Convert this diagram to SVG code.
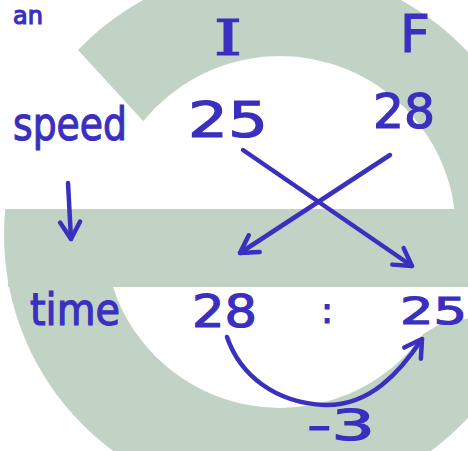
<svg xmlns="http://www.w3.org/2000/svg" width="468" height="451" viewBox="0 0 468 451">
<style>
.wm{fill:#c1d3c5}
.bg{fill:#ffffff}
.ink{fill:#3b2fbf;stroke:#3b2fbf;stroke-width:1.2;font-family:"DejaVu Sans","Liberation Sans",sans-serif}
.ln{fill:none;stroke:#3b2fbf;stroke-width:4.5;stroke-linecap:round;stroke-linejoin:round}
</style>
<defs>
<marker id="ah" markerUnits="userSpaceOnUse" viewBox="-22 -14 26 28" refX="0" refY="0" markerWidth="26" markerHeight="28" orient="auto" overflow="visible">
<path d="M-17,-10 L0,0 L-17,10" fill="none" stroke="#3b2fbf" stroke-width="4.5" stroke-linecap="round" stroke-linejoin="round"/>
</marker>
</defs>
<rect width="468" height="451" class="bg"/>
<g id="watermark">
<circle cx="272" cy="235" r="268" class="wm"/>
<circle cx="280" cy="232" r="176" class="bg"/>
<rect x="8" y="209" width="470" height="78" class="wm"/>
<polygon points="-5,-10 23,-10 150,128.6 115,209 -5,209" class="bg"/>
<polygon points="380,287 470,287 470,318 440,324 420,336" class="bg"/>
</g>
<g id="label-top-cut"><text class="ink" x="13" y="24" font-size="24">an</text></g>
<g id="label-I"><text class="ink" transform="translate(228,55) scale(1.5,1)" text-anchor="middle" font-size="48" style="font-family:'DejaVu Serif',serif">I</text></g>
<g id="label-F"><text class="ink" x="400" y="52" font-size="52">F</text></g>
<g id="label-speed"><text class="ink" x="13" y="140" font-size="46" textLength="114" lengthAdjust="spacingAndGlyphs">speed</text></g>
<g id="label-time"><text class="ink" x="30" y="325" font-size="44" textLength="90" lengthAdjust="spacingAndGlyphs">time</text></g>
<g id="speed-initial"><text class="ink" x="188" y="137" font-size="50" textLength="80" lengthAdjust="spacingAndGlyphs">25</text></g>
<g id="speed-final"><text class="ink" x="373" y="128" font-size="48" textLength="62" lengthAdjust="spacingAndGlyphs">28</text></g>
<g id="time-initial"><text class="ink" x="192" y="327" font-size="44" textLength="65" lengthAdjust="spacingAndGlyphs">28</text></g>
<g id="ratio-colon"><text class="ink" x="327" y="323" font-size="36" text-anchor="middle">:</text></g>
<g id="time-final"><text class="ink" x="400" y="324" font-size="38" textLength="67" lengthAdjust="spacingAndGlyphs">25</text></g>
<g id="difference"><text class="ink" x="307" y="440" font-size="42" textLength="68" lengthAdjust="spacingAndGlyphs">-3</text></g>
<g id="connectors">
<path class="ln" d="M68,183 L71,239" marker-end="url(#ah)"/>
<path class="ln" d="M243,150 L412,266" marker-end="url(#ah)"/>
<path class="ln" d="M390,155 L240,253" marker-end="url(#ah)"/>
<path class="ln" d="M227,337 C240,375 275,403 325,405 C370,406 400,372 422,339" marker-end="url(#ah)"/>
</g>
</svg>
